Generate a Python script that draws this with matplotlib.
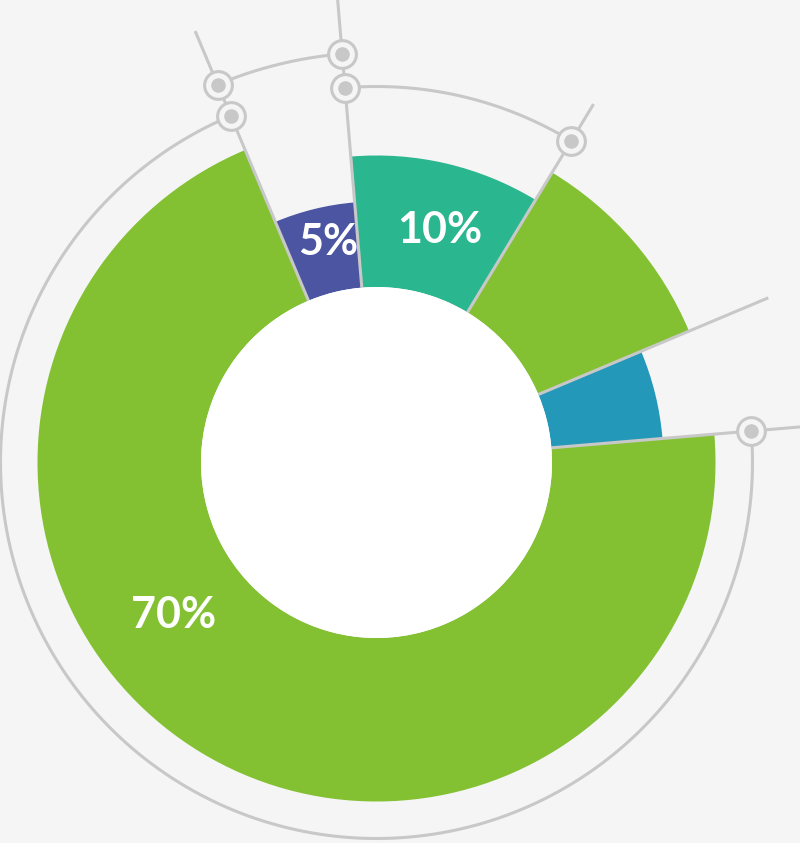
import numpy as np
import matplotlib
matplotlib.use('Agg')
import matplotlib.pyplot as plt

# slice data, clockwise from the top-left boundary
values = [5, 10, 10, 5, 70]
labels = ['5%', '10%', '', '', '70%']
outer = [261, 307, 339, 287, 339]
colors = ['#4B55A2', '#2AB68E', '#83C133', '#2398B8', '#83C133']
inner = 175.5
start_deg = 112.8

# decorative guide arcs: (slice index, radius)
arcs = [(0, 410), (1, 376), (4, 376)]
# how far each boundary line runs out (boundary index 0..4)
line_end = [468, 480, 419, 425, 480]

W, H = 800, 843
cx, cy = 376.5, 462.5
rmax = 480

fig = plt.figure(figsize=(W / 100, H / 100), dpi=100, facecolor='#F5F5F5')
ax = fig.add_axes([(cx - rmax) / W, (H - cy - rmax) / H, 2 * rmax / W, 2 * rmax / H], projection='polar')
ax.set_axis_off()
ax.set_ylim(0, rmax)

vals = np.array(values, dtype=float)
edges = np.deg2rad(start_deg - np.concatenate([[0], np.cumsum(vals)]) * 360 / vals.sum())

gray = '#C8C8C8'
lw = 2.2

for i in range(len(values)):
    a0, a1 = edges[i], edges[i + 1]
    ax.bar((a0 + a1) / 2, outer[i] - inner, width=abs(a1 - a0), bottom=inner,
           color=colors[i], edgecolor='none', zorder=2)

# boundary lines
for i in range(len(values)):
    ax.plot([edges[i], edges[i]], [inner, line_end[i]], color=gray, lw=lw, zorder=3,
            solid_capstyle='butt')

# white centre
ax.bar(0, inner, width=2 * np.pi, bottom=0, color='white', edgecolor='none', zorder=4)

# guide arcs with ring markers
for idx, r in arcs:
    a0, a1 = edges[idx], edges[idx + 1]
    t = np.linspace(a0, a1, 400)
    ax.plot(t, np.full_like(t, r), color=gray, lw=lw, zorder=3)
    for a in (a0, a1):
        ax.plot([a], [r], 'o', ms=20, mfc='#F5F5F5', mec=gray, mew=lw, zorder=5)
        ax.plot([a], [r], 'o', ms=10.5, mfc=gray, mec='none', zorder=6)

# labels
label_pos = {0: (102.3, 226), 1: (74.8, 241), 4: (216.8, 254)}
for i, (deg, r) in label_pos.items():
    ax.text(np.deg2rad(deg), r, labels[i], color='white', fontsize=31, fontweight='bold',
            family=['Lato', 'DejaVu Sans'], ha='center', va='center', zorder=7)

fig.savefig('out.png', dpi=100, facecolor=fig.get_facecolor())
